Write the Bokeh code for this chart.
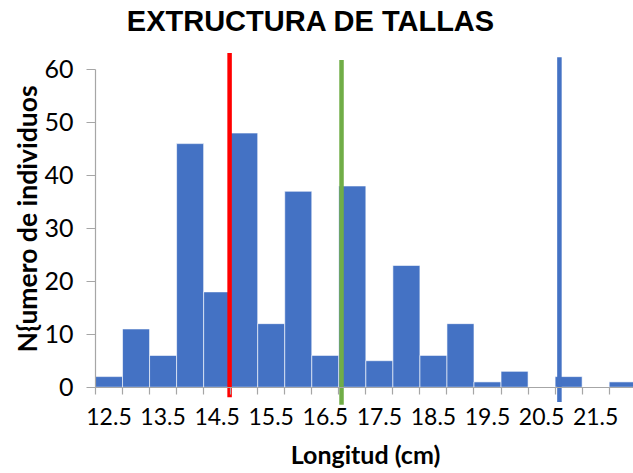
from bokeh.plotting import figure
from bokeh.models import FixedTicker, Label, ColumnDataSource, Range1d
from bokeh.embed import file_html
from bokeh.resources import INLINE
import math

# ---- data ----
bin_centers = [12.5, 13.0, 13.5, 14.0, 14.5, 15.0, 15.5, 16.0, 16.5, 17.0,
               17.5, 18.0, 18.5, 19.0, 19.5, 20.0, 20.5, 21.0, 21.5, 22.0]
counts = [2, 11, 6, 46, 18, 48, 12, 37, 6, 38,
          5, 23, 6, 12, 1, 3, 0, 2, 0, 1]
bin_width = 0.5
tick_labels = ["12.5", "13.5", "14.5", "15.5", "16.5", "17.5", "18.5", "19.5", "20.5", "21.5"]
tick_positions = [12.5, 13.5, 14.5, 15.5, 16.5, 17.5, 18.5, 19.5, 20.5, 21.5]
y_ticks = [0, 10, 20, 30, 40, 50, 60]
ref_lines_x = [14.73, 16.80, 20.83]
ref_lines_color = ["#FF0000", "#70AD47", "#4472C4"]
title_text = "EXTRUCTURA DE TALLAS"
x_title = "Longitud (cm)"
y_title = "N{umero de individuos"

boundaries = [c - bin_width / 2 for c in bin_centers] + [bin_centers[-1] + bin_width / 2]
x0 = boundaries[0]

# the frame covers the whole canvas; axes are placed at fixed locations
p = figure(width=633, height=473, output_backend="svg", toolbar_location=None,
           x_range=Range1d(10.493, 22.2), y_range=Range1d(-16.30, 73.03),
           min_border=0, min_border_left=0, min_border_right=0,
           min_border_top=0, min_border_bottom=0)
p.outline_line_color = None
p.grid.visible = False
p.background_fill_color = "white"
p.border_fill_color = "white"

src = ColumnDataSource(dict(
    left=[c - bin_width / 2 for c in bin_centers],
    right=[c + bin_width / 2 for c in bin_centers],
    top=counts,
    bottom=[0] * len(counts),
))
p.quad(left="left", right="right", top="top", bottom="bottom", source=src,
       fill_color="#4472C4", line_color="white", line_alpha=0.6, line_width=1)

# reference lines
line_tops = [63.1, 61.8, 62.3]
line_bottoms = [-1.9, -3.3, -2.8]
for xv, col, t, b in zip(ref_lines_x, ref_lines_color, line_tops, line_bottoms):
    p.segment(x0=[xv], x1=[xv], y0=[b], y1=[t], line_color=col, line_width=4.5)

# x axis
xa = p.xaxis[0]
xa.fixed_location = 0
xa.ticker = FixedTicker(ticks=tick_positions, minor_ticks=boundaries)
xa.major_label_overrides = {t: l for t, l in zip(tick_positions, tick_labels)}
xa.bounds = (boundaries[0], boundaries[-1])
xa.axis_line_color = "#A6A6A6"
xa.axis_line_width = 1.2
xa.major_tick_line_color = None
xa.major_tick_out = 7
xa.major_tick_in = 0
xa.minor_tick_line_color = "#A6A6A6"
xa.minor_tick_line_width = 1.2
xa.minor_tick_out = 7
xa.minor_tick_in = 0
xa.major_label_standoff = 14
xa.major_label_text_font = "Lato"
xa.major_label_text_font_size = "23px"
xa.major_label_text_color = "#000000"

# y axis
ya = p.yaxis[0]
ya.fixed_location = x0
ya.ticker = FixedTicker(ticks=y_ticks, minor_ticks=[])
ya.bounds = (0, 60)
ya.axis_line_color = "#A6A6A6"
ya.axis_line_width = 1.2
ya.major_tick_line_color = "#A6A6A6"
ya.major_tick_line_width = 1.2
ya.major_tick_out = 9
ya.major_tick_in = 0
ya.minor_tick_line_color = None
ya.major_label_standoff = 13
ya.major_label_text_font = "Lato"
ya.major_label_text_font_size = "25px"
ya.major_label_text_color = "#000000"

# axis titles and chart title
p.add_layout(Label(x=17.243, y=-12.71, text=x_title,
                   text_align="center", text_baseline="middle",
                   text_font="Lato", text_font_style="bold", text_font_size="25px",
                   text_color="#000000"))
p.add_layout(Label(x=10.992, y=31.77, text=y_title, angle=math.pi / 2,
                   text_align="center", text_baseline="middle",
                   text_font="Lato", text_font_style="bold", text_font_size="26.5px",
                   text_color="#000000"))
p.add_layout(Label(x=16.236, y=69.07, text=title_text,
                   text_align="center", text_baseline="middle",
                   text_font="Liberation Sans", text_font_style="bold", text_font_size="29px",
                   text_color="#000000"))

open("out.html", "w").write(file_html(p, INLINE))
